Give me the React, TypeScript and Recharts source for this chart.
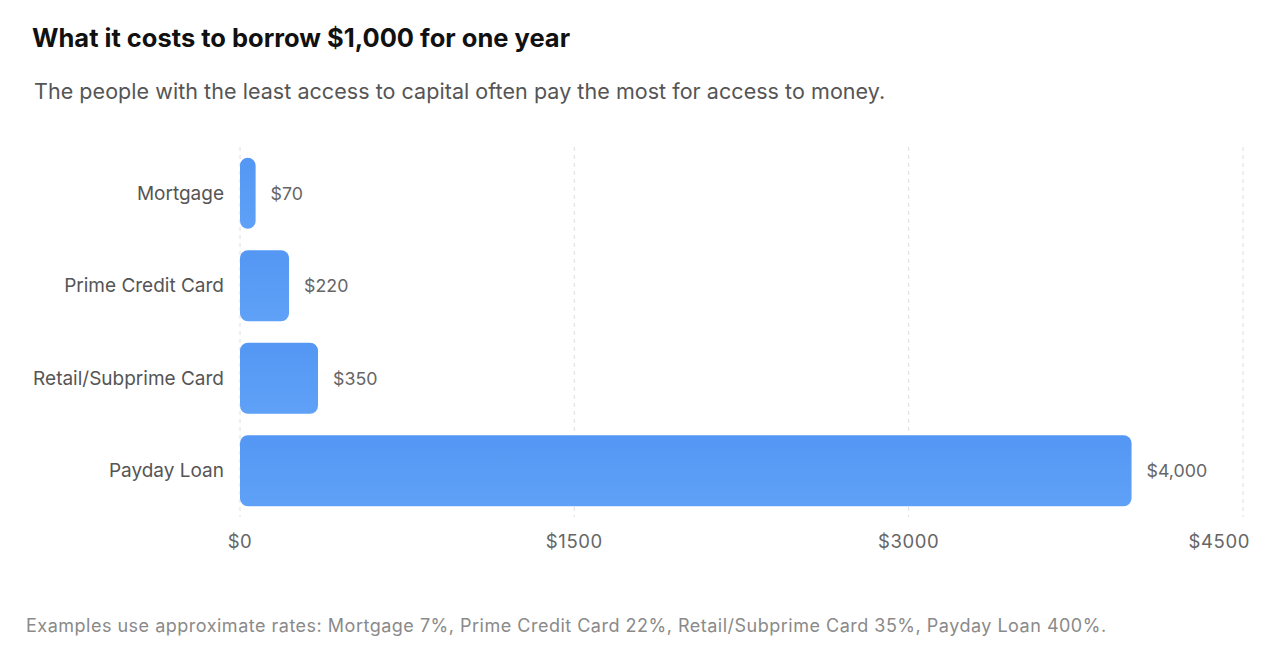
import { BarChart, Bar, XAxis, YAxis, CartesianGrid, LabelList } from 'recharts'

const categories = ['Mortgage', 'Prime Credit Card', 'Retail/Subprime Card', 'Payday Loan']
const costs = [70, 220, 350, 4000]
const xTicks = [0, 1500, 3000, 4500]

const data = categories.map((name, i) => ({ name, cost: costs[i] }))

const FONT = 'Inter, "Liberation Sans", Arial, sans-serif'

const fmtMoney = (v: number) => '$' + v.toLocaleString('en-US')

function XTick(props: any) {
  const { x, y, payload, index } = props
  const last = index === xTicks.length - 1
  return (
    <text
      x={last ? x + 7 : x}
      y={y}
      dy="0.71em"
      textAnchor={last ? 'end' : 'middle'}
      fill="#666"
      fontSize={18.5}
      letterSpacing={0.6}
      fontFamily={FONT}
    >
      {'$' + payload.value}
    </text>
  )
}

export default function App() {
  return (
    <div style={{ position: 'relative', width: 1280, height: 648, background: '#fff', fontFamily: FONT }}>
      <style>{`body{margin:0}`}</style>
      <div style={{ position: 'absolute', left: 32, top: 22, fontSize: 25.5, fontWeight: 700, color: '#111' }}>
        What it costs to borrow $1,000 for one year
      </div>
      <div style={{ position: 'absolute', left: 34, top: 78, fontSize: 21.5, letterSpacing: 0.05, color: '#555' }}>
        The people with the least access to capital often pay the most for access to money.
      </div>
      <div style={{ position: 'absolute', left: 0, top: 0 }}>
        <BarChart
          width={1280}
          height={560}
          data={data}
          layout="vertical"
          margin={{ top: 147, right: 37, bottom: 13, left: 0 }}
          barCategoryGap="11.6%"
        >
          <defs>
            <linearGradient id="barFill" x1="0" y1="0" x2="0" y2="1">
              <stop offset="0%" stopColor="#5497f4" />
              <stop offset="100%" stopColor="#5fa1f7" />
            </linearGradient>
          </defs>
          <CartesianGrid horizontal={false} strokeDasharray="4 4" stroke="#dedede" />
          <XAxis
            type="number"
            domain={[0, 4500]}
            ticks={xTicks}
            axisLine={false}
            tickLine={false}
            tickMargin={12}
            height={30}
            tick={<XTick />}
          />
          <YAxis
            type="category"
            dataKey="name"
            width={240}
            axisLine={false}
            tickLine={false}
            tickSize={6}
            tickMargin={10}
            tick={{ fill: '#555', fontSize: 19, fontFamily: FONT }}
          />
          <Bar dataKey="cost" fill="url(#barFill)" radius={8} isAnimationActive={false}>
            <LabelList
              dataKey="cost"
              position="right"
              offset={15}
              formatter={(v: any) => fmtMoney(Number(v))}
              style={{ fill: '#666', fontSize: 17.8, fontFamily: FONT }}
            />
          </Bar>
        </BarChart>
      </div>
      <div style={{ position: 'absolute', left: 26, top: 615, fontSize: 18, letterSpacing: 0.5, color: '#8a8a8a' }}>
        Examples use approximate rates: Mortgage 7%, Prime Credit Card 22%, Retail/Subprime Card 35%, Payday Loan 400%.
      </div>
    </div>
  )
}
